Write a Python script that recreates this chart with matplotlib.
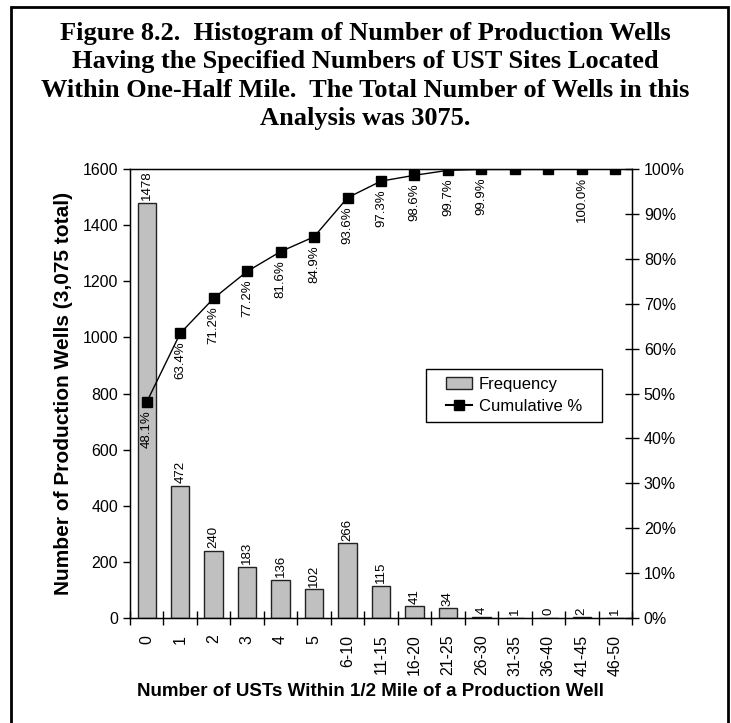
import numpy as np
import matplotlib.pyplot as plt
from matplotlib.patches import Rectangle, Patch
from matplotlib.lines import Line2D

plt.rcParams['font.family'] = 'Liberation Sans'

categories = ['0', '1', '2', '3', '4', '5', '6-10', '11-15', '16-20', '21-25',
              '26-30', '31-35', '36-40', '41-45', '46-50']
frequency = [1478, 472, 240, 183, 136, 102, 266, 115, 41, 34, 4, 1, 0, 2, 1]
cumulative = [48.1, 63.4, 71.2, 77.2, 81.6, 84.9, 93.6, 97.3, 98.6, 99.7,
              99.9, 99.9, 99.9, 100.0, 100.0]
cum_labels = ['48.1%', '63.4%', '71.2%', '77.2%', '81.6%', '84.9%', '93.6%',
              '97.3%', '98.6%', '99.7%', '99.9%', '', '', '100.0%', '']

title = ('Figure 8.2.  Histogram of Number of Production Wells\n'
         'Having the Specified Numbers of UST Sites Located\n'
         'Within One-Half Mile.  The Total Number of Wells in this\n'
         'Analysis was 3075.')

fig = plt.figure(figsize=(7.31, 7.23), dpi=100)

# outer frame (bottom edge falls outside the picture)
fig.patches.append(Rectangle((11 / 731, -0.02), 717 / 731, 1.02 - 7 / 723,
                             transform=fig.transFigure, fill=False,
                             edgecolor='black', linewidth=2))

fig.text(0.5, 1 - 22 / 723, title, ha='center', va='top',
         family='Liberation Serif', fontweight='bold', fontsize=19,
         linespacing=1.3)

ax = fig.add_axes([130 / 731, 1 - 618 / 723, 502 / 731, 449 / 723])
x = np.arange(len(categories))
ax.bar(x, frequency, width=0.55, color='#c0c0c0', edgecolor='#222222',
       linewidth=1)
for xi, v in zip(x, frequency):
    ax.annotate(str(v), (xi, v), xytext=(0, 2), textcoords='offset points',
                rotation=90, ha='center', va='bottom', fontsize=9.5)

ax.set_xlim(-0.5, len(categories) - 0.5)
ax.set_ylim(0, 1600)
ax.set_yticks(np.arange(0, 1601, 200))
ax.set_xticks(x)
ax.set_xticklabels(categories, rotation=90, fontsize=11.5)
ax.tick_params(axis='x', length=0, pad=12)
ax.set_xticks(np.arange(-0.5, len(categories)), minor=True)
ax.tick_params(axis='x', which='minor', direction='inout', length=10,
               width=1)
ax.tick_params(axis='y', direction='out', length=5, width=1, labelsize=11.5)
for s in ax.spines.values():
    s.set_linewidth(1)
ax.set_xlabel('Number of USTs Within 1/2 Mile of a Production Well',
              fontweight='bold', fontsize=13.5)
ax.xaxis.set_label_coords(0.479, -0.145)
ax.set_ylabel('Number of Production Wells (3,075 total)',
              fontweight='bold', fontsize=15, labelpad=7)

ax2 = ax.twinx()
ax2.plot(x, cumulative, color='black', linewidth=1, marker='s',
         markersize=6.5)
for xi, v, lab in zip(x, cumulative, cum_labels):
    if lab:
        ax2.annotate(lab, (xi, v), xytext=(0, -6), textcoords='offset points',
                     rotation=90, ha='center', va='top', fontsize=9.5)
ax2.set_ylim(0, 100)
ax2.set_yticks(np.arange(0, 101, 10))
ax2.set_yticklabels([f'{t}%' for t in range(0, 101, 10)])
ax2.tick_params(axis='y', direction='inout', length=10, width=1,
                labelsize=11.5)

# legend box drawn by hand, wider than the entries
ax2.add_patch(Rectangle((296 / 502, 196 / 449), 176 / 502, 53 / 449,
                        transform=ax2.transAxes, fill=True,
                        facecolor='white', edgecolor='black', linewidth=1,
                        zorder=5))
handles = [Patch(facecolor='#c0c0c0', edgecolor='#222222', label='Frequency'),
           Line2D([], [], color='black', marker='s', markersize=6.5,
                  label='Cumulative %')]
leg = ax2.legend(handles=handles, loc='center',
                 bbox_to_anchor=(384 / 502, 222.5 / 449), fontsize=12,
                 frameon=False, handlelength=1.6, handletextpad=0.4,
                 labelspacing=0.45, borderpad=0.2)
leg.set_zorder(6)

fig.savefig('out.png', dpi=100)
